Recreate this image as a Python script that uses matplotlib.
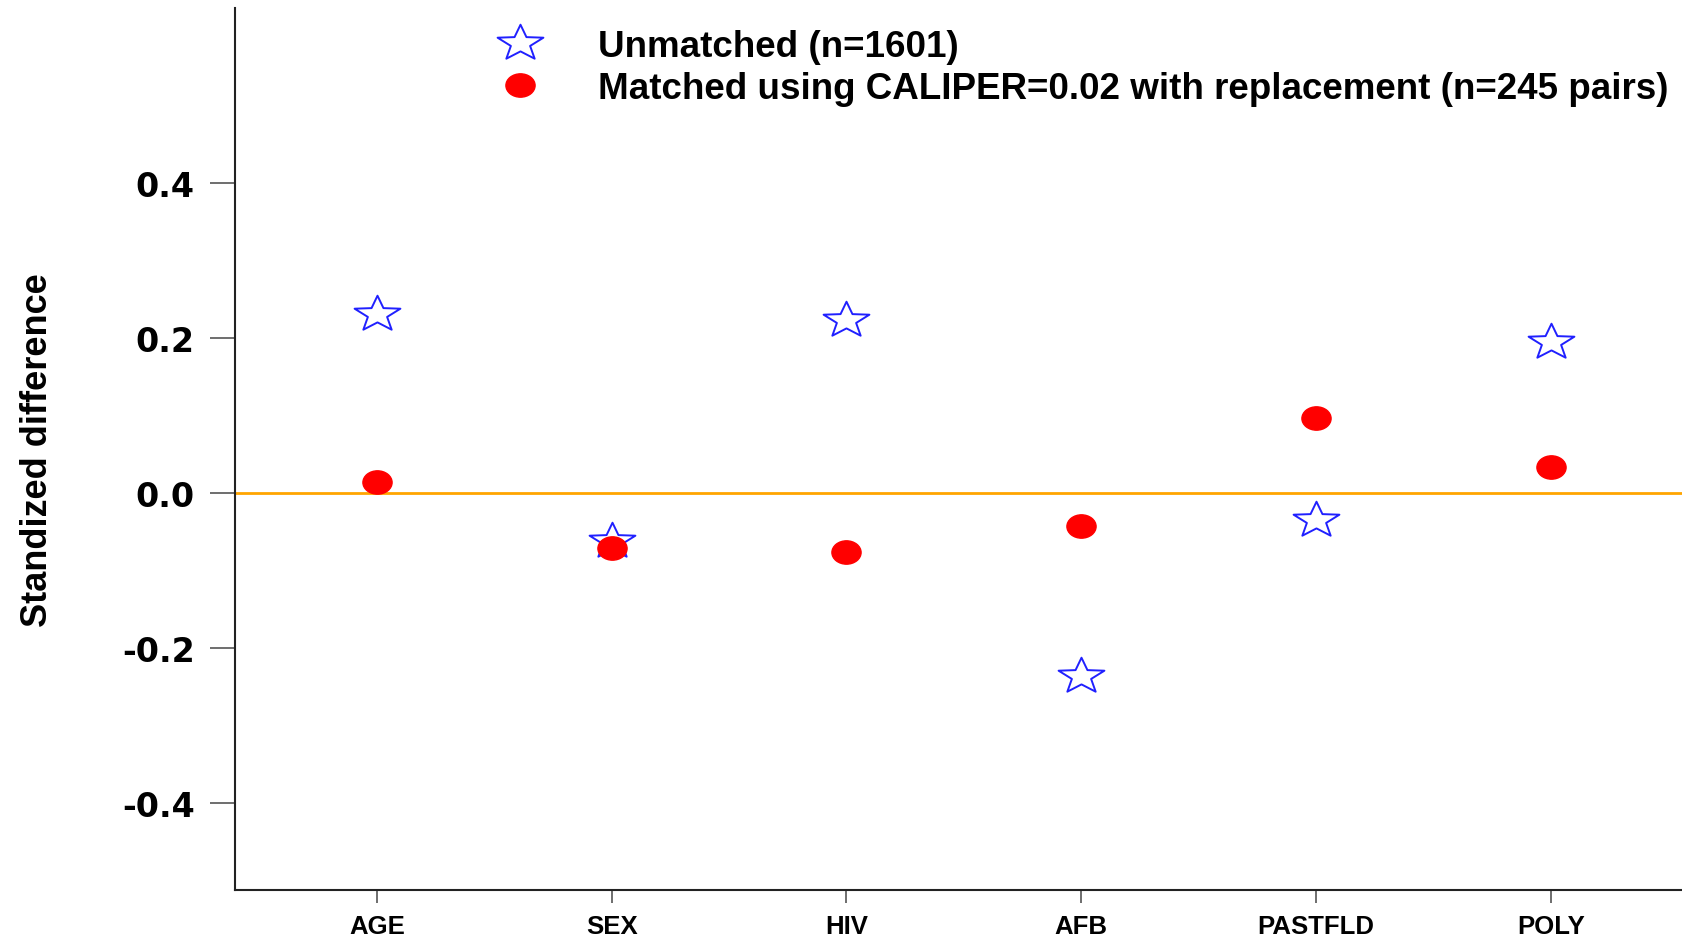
import numpy as np
import matplotlib
matplotlib.use('Agg')
import matplotlib.pyplot as plt
from matplotlib.path import Path

# data
variables = ['AGE', 'SEX', 'HIV', 'AFB', 'PASTFLD', 'POLY']
unmatched = [0.230, -0.062, 0.223, -0.236, -0.035, 0.195]
matched = [0.014, -0.071, -0.076, -0.043, 0.096, 0.033]
yticks = [-0.4, -0.2, 0.0, 0.2, 0.4]

# squashed star and ellipse markers (picture is stretched sideways)
star = Path.unit_regular_star(5, 0.42)
star_marker = Path(star.vertices * [1.0, 0.78], star.codes)
circ = Path.unit_circle()
dot_marker = Path(circ.vertices * [1.0, 0.8], circ.codes)

fig = plt.figure(figsize=(16.83, 9.37), dpi=100)
ax = fig.add_axes([235 / 1683, 46 / 937, 1 - 235 / 1683, (891 - 9) / 937])

x = np.arange(1, len(variables) + 1)

ax.axhline(0, color='#FFA500', lw=2.0, zorder=1)
h1, = ax.plot(x, unmatched, ls='none', marker=star_marker, ms=33, mfc='white',
              mec='#2020FF', mew=1.4, zorder=3, label='Unmatched (n=1601)')
h2, = ax.plot(x, matched, ls='none', marker=dot_marker, ms=21, mfc='red', mec='red',
              zorder=4, label='Matched using CALIPER=0.02 with replacement (n=245 pairs)')

ax.set_xlim(0.396, 6.563)
ax.set_ylim(-0.512, 0.625)

ax.set_xticks(x)
ax.set_xticklabels(variables, fontfamily='Liberation Sans', fontweight='bold', fontsize=18.5)
ax.set_yticks(yticks)
ax.set_yticklabels(['%.1f' % v for v in yticks], fontfamily='DejaVu Sans',
                   fontweight='bold', fontsize=24)
ax.tick_params(axis='y', length=18, width=1.2, color='#555555', pad=11)
ax.tick_params(axis='x', length=9, width=1.2, color='#555555', pad=8)

for s in ['top', 'right']:
    ax.spines[s].set_visible(False)
for s in ['left', 'bottom']:
    ax.spines[s].set_linewidth(1.5)
    ax.spines[s].set_color('#222222')

fig.text(38 / 1683, 1 - 450 / 937, 'Standized difference', rotation=90,
         ha='center', va='center', fontfamily='Liberation Sans', fontweight='bold',
         fontsize=26)

fig.legend(handles=[h1, h2], loc='upper left', bbox_to_anchor=(502 / 1683, 1 - 30 / 937),
           frameon=False, borderpad=0, borderaxespad=0, handlelength=1.0,
           handletextpad=1.62, labelspacing=0.2, numpoints=1,
           prop={'family': 'Liberation Sans', 'weight': 'bold', 'size': 26.5})

fig.savefig('out.png', dpi=100)
